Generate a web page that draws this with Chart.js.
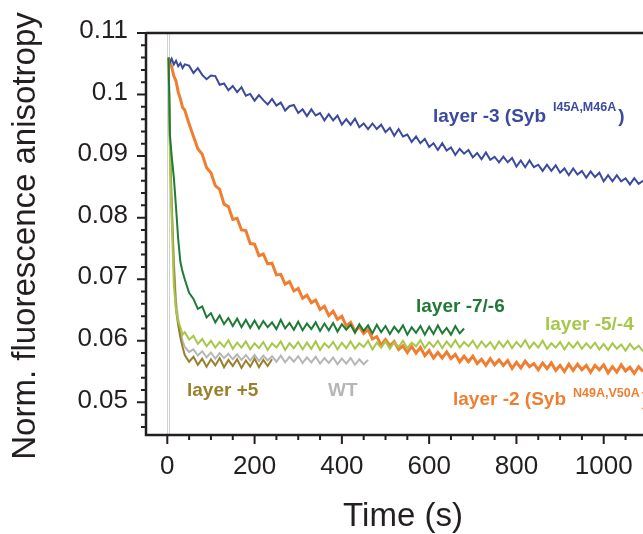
<!DOCTYPE html>
<html>
<head>
<meta charset="utf-8">
<script src="https://cdn.jsdelivr.net/npm/chart.js@4.4.1/dist/chart.umd.min.js"></script>
<style>
  html, body { margin: 0; padding: 0; background: #fff; }
  canvas { display: block; }
</style>
</head>
<body>
<canvas id="chart" width="643" height="534"></canvas>
<script>
// time points (s) shared by all traces; shorter traces stop early
const times = [3, 6, 10, 15, 20, 25, 30, 35, 40,
  50, 60, 70, 80, 90, 100, 110, 120, 130, 140, 150, 160, 170, 180, 190, 200,
  210, 220, 230, 240, 250, 260, 270, 280, 290, 300, 310, 320, 330, 340, 350,
  360, 370, 380, 390, 400, 410, 420, 430, 440, 450, 460, 470, 480, 490, 500,
  510, 520, 530, 540, 550, 560, 570, 580, 590, 600, 610, 620, 630, 640, 650,
  660, 670, 680, 690, 700, 710, 720, 730, 740, 750, 760, 770, 780, 790, 800,
  810, 820, 830, 840, 850, 860, 870, 880, 890, 900, 910, 920, 930, 940, 950,
  960, 970, 980, 990, 1000, 1010, 1020, 1030, 1040, 1050, 1060, 1070, 1080, 1090];

const layer3 = [.1060, .1052, .1058, .1049, .1055, .1046, .1051, .1043, .1049,
  .1047, .1035, .1043, .1032, .1025, .1031, .1030, .1016, .1018, .1007, .1014, .1004, .1012, .0998, .1001, .0990,
  .0999, .0991, .0984, .0993, .0982, .0987, .0974, .0981, .0983, .0970, .0976, .0965, .0976, .0966, .0970,
  .0958, .0968, .0958, .0966, .0951, .0960, .0951, .0961, .0947, .0953, .0944, .0953, .0944, .0951, .0939,
  .0946, .0933, .0944, .0932, .0935, .0923, .0932, .0921, .0928, .0915, .0921, .0910, .0921, .0909, .0914,
  .0902, .0912, .0904, .0910, .0898, .0905, .0895, .0906, .0894, .0899, .0890, .0899, .0890, .0897, .0883,
  .0893, .0882, .0893, .0882, .0886, .0876, .0886, .0876, .0885, .0873, .0880, .0869, .0880, .0870, .0876,
  .0865, .0875, .0866, .0873, .0859, .0869, .0859, .0869, .0859, .0864, .0854, .0864, .0855, .0860];

const layer2 = [.1060, .1052, .1045, .1030, .1022, .1004, .0993, .0979, .0975,
  .0952, .0932, .0912, .0903, .0881, .0873, .0852, .0846, .0822, .0818, .0797, .0799, .0780, .0779, .0758, .0757,
  .0738, .0741, .0725, .0726, .0707, .0708, .0692, .0696, .0681, .0685, .0669, .0674, .0662, .0666, .0651,
  .0656, .0641, .0648, .0635, .0640, .0624, .0630, .0616, .0623, .0612, .0618, .0603, .0607, .0593, .0602,
  .0592, .0599, .0586, .0592, .0581, .0591, .0580, .0589, .0576, .0584, .0572, .0581, .0572, .0582, .0571,
  .0578, .0566, .0575, .0566, .0575, .0563, .0570, .0560, .0571, .0561, .0569, .0560, .0568, .0555, .0565,
  .0556, .0567, .0558, .0563, .0553, .0564, .0555, .0564, .0552, .0560, .0550, .0562, .0552, .0562, .0553,
  .0560, .0549, .0560, .0553, .0561, .0548, .0558, .0549, .0561, .0551, .0557, .0547, .0558, .0550];

const layer76 = [.1060, .0935, .0900, .0865, .0817, .0765, .0728, .0712, .0700,
  .0678, .0668, .0652, .0656, .0638, .0645, .0630, .0641, .0627, .0637, .0624, .0636, .0622, .0634, .0621, .0633,
  .0620, .0632, .0622, .0630, .0619, .0634, .0620, .0629, .0618, .0631, .0617, .0628, .0619, .0630, .0616,
  .0628, .0617, .0629, .0615, .0627, .0618, .0626, .0613, .0627, .0616, .0625, .0612, .0626, .0614, .0624,
  .0611, .0623, .0614, .0625, .0610, .0622, .0613, .0624, .0610, .0623, .0611, .0625, .0612, .0621, .0610,
  .0624, .0612, .0620];

const layer54 = [.1060, .0900, .0800, .0690, .0650, .0632, .0622, .0610, .0614,
  .0602, .0608, .0595, .0603, .0591, .0600, .0589, .0598, .0590, .0601, .0587, .0597, .0589, .0599, .0586, .0596,
  .0588, .0598, .0585, .0596, .0589, .0599, .0585, .0596, .0588, .0598, .0586, .0597, .0587, .0599, .0585,
  .0596, .0589, .0598, .0586, .0597, .0588, .0599, .0587, .0596, .0590, .0600, .0586, .0597, .0589, .0599,
  .0587, .0598, .0590, .0600, .0588, .0597, .0591, .0601, .0588, .0598, .0590, .0600, .0588, .0599, .0590,
  .0601, .0589, .0598, .0591, .0600, .0588, .0599, .0590, .0598, .0587, .0599, .0590, .0600, .0588, .0598,
  .0590, .0601, .0588, .0597, .0589, .0600, .0587, .0596, .0589, .0598, .0586, .0597, .0589, .0598, .0587,
  .0596, .0588, .0597, .0586, .0595, .0585, .0596, .0587, .0594, .0584, .0595, .0586, .0592, .0583];

const layer5 = [.1060, .0920, .0820, .0720, .0650, .0625, .0605, .0590, .0577,
  .0566, .0574, .0561, .0571, .0558, .0570, .0560, .0572, .0557, .0569, .0559, .0570, .0556, .0568, .0558, .0571,
  .0557, .0569, .0559, .0570];

const wildType = [.1060, .0925, .0830, .0730, .0665, .0635, .0615, .0600, .0590,
  .0582, .0586, .0576, .0583, .0573, .0581, .0571, .0580, .0572, .0579, .0570, .0578, .0569, .0577, .0568, .0577,
  .0567, .0576, .0568, .0575, .0566, .0576, .0565, .0574, .0566, .0575, .0564, .0573, .0565, .0574, .0563,
  .0572, .0564, .0573, .0562, .0571, .0563, .0572, .0561, .0570, .0562, .0569];

const xTicks = [0, 200, 400, 600, 800, 1000];
const xTickText = ['0', '200', '400', '600', '800', '1000'];
const yTicks = [0.05, 0.06, 0.07, 0.08, 0.09, 0.1, 0.11];
const yTickText = ['0.05', '0.06', '0.07', '0.08', '0.09', '0.1', '0.11'];
const mixTimes = [0, 5];

const colors = {
  blue: '#3c4a9d',
  orange: '#f07e31',
  dark: '#1f7a36',
  light: '#a7c74a',
  olive: '#9a802b',
  gray: '#b6b6b6'
};

const FONT = '"Liberation Sans", Arial, Helvetica, sans-serif';

const curveLabels = [
  { text: 'layer -3 (Syb', sup: 'I45A,M46A', color: colors.blue, x: 433, y: 122, supDy: 11 },
  { text: 'layer -7/-6', color: colors.dark, x: 416, y: 312 },
  { text: 'layer -5/-4', color: colors.light, x: 545, y: 330 },
  { text: 'layer -2 (Syb', sup: 'N49A,V50A', color: colors.orange, x: 453, y: 405, supDy: 8 },
  { text: 'layer +5', color: colors.olive, x: 187, y: 396 },
  { text: 'WT', color: colors.gray, x: 328, y: 396 }
];

function toPoints(vals) {
  return vals.map((v, i) => ({ x: times[i], y: v }));
}

function drawLabel(ctx, l) {
  ctx.fillStyle = l.color;
  ctx.textAlign = 'left';
  ctx.textBaseline = 'alphabetic';
  ctx.font = 'bold 19px ' + FONT;
  ctx.fillText(l.text, l.x, l.y);
  if (!l.sup) return;
  let cx = l.x + ctx.measureText(l.text).width + 7;
  ctx.font = 'bold 12.5px ' + FONT;
  ctx.fillText(l.sup, cx, l.y - l.supDy);
  cx += ctx.measureText(l.sup).width + 2;
  ctx.font = 'bold 19px ' + FONT;
  ctx.fillText(')', cx, l.y);
}

const framePlugin = {
  id: 'frame',
  beforeDatasetsDraw(chart) {
    const { ctx, chartArea: a, scales: { x } } = chart;
    ctx.save();
    ctx.strokeStyle = '#d2d2d2';
    ctx.lineWidth = 1;
    mixTimes.forEach(t => {
      const px = Math.round(x.getPixelForValue(t)) + 0.5;
      ctx.beginPath();
      ctx.moveTo(px, a.top);
      ctx.lineTo(px, a.bottom);
      ctx.stroke();
    });
    ctx.restore();
  },
  afterDraw(chart) {
    const { ctx, chartArea: a, scales: { x, y } } = chart;
    ctx.save();
    ctx.strokeStyle = '#231f20';
    ctx.lineWidth = 2.5;
    ctx.beginPath();
    ctx.moveTo(a.left, a.top);
    ctx.lineTo(a.right, a.top);
    ctx.moveTo(a.left, a.top);
    ctx.lineTo(a.left, a.bottom);
    ctx.lineTo(a.right, a.bottom);
    ctx.stroke();

    // tick marks, major and minor
    ctx.lineWidth = 2;
    ctx.beginPath();
    for (let v = 0.046; v < 0.1101; v += 0.002) {
      const py = y.getPixelForValue(v);
      const major = Math.abs(v * 100 - Math.round(v * 100)) < 1e-6;
      ctx.moveTo(a.left, py);
      ctx.lineTo(a.left - (major ? 9 : 5), py);
    }
    for (let t = 0; t <= 1090; t += 50) {
      const px = x.getPixelForValue(t);
      ctx.moveTo(px, a.bottom);
      ctx.lineTo(px, a.bottom + (t % 200 === 0 ? 9 : 5));
    }
    ctx.stroke();

    // axis titles
    ctx.fillStyle = '#231f20';
    ctx.font = '33px ' + FONT;
    ctx.textAlign = 'center';
    ctx.textBaseline = 'alphabetic';
    ctx.fillText('Time (s)', 403, 526);
    ctx.translate(35, 236);
    ctx.rotate(-Math.PI / 2);
    ctx.fillText('Norm. fluorescence anisotropy', 0, 0);
    ctx.restore();

    ctx.save();
    curveLabels.forEach(l => drawLabel(ctx, l));
    ctx.restore();
  }
};

function trace(data, color, width) {
  return {
    data: toPoints(data),
    borderColor: color,
    borderWidth: width,
    pointRadius: 0,
    tension: 0,
    fill: false
  };
}

new Chart(document.getElementById('chart'), {
  type: 'line',
  data: {
    datasets: [
      trace(layer76, colors.dark, 2),
      trace(layer54, colors.light, 2),
      trace(layer5, colors.olive, 2),
      trace(wildType, colors.gray, 2),
      trace(layer3, colors.blue, 2),
      trace(layer2, colors.orange, 3)
    ]
  },
  plugins: [framePlugin],
  options: {
    responsive: false,
    animation: false,
    devicePixelRatio: 1,
    layout: { padding: { top: 33, right: 0, left: 0, bottom: 0 } },
    plugins: { legend: { display: false }, tooltip: { enabled: false } },
    scales: {
      x: {
        type: 'linear',
        min: -48.8,
        max: 1090,
        afterBuildTicks: s => { s.ticks = xTicks.map(v => ({ value: v })); },
        afterFit: s => { s.height = 99; s.paddingLeft = 0; s.paddingRight = 0; },
        grid: { display: false, drawTicks: false, tickLength: 0 },
        border: { display: false },
        ticks: {
          font: { size: 26, family: FONT },
          color: '#231f20',
          padding: 16,
          maxRotation: 0,
          autoSkip: false,
          callback: v => xTickText[xTicks.indexOf(v)]
        }
      },
      y: {
        min: 0.0447,
        max: 0.11,
        afterBuildTicks: s => { s.ticks = yTicks.map(v => ({ value: v })); },
        afterFit: s => { s.width = 146; s.paddingTop = 0; s.paddingBottom = 0; },
        grid: { display: false, drawTicks: false, tickLength: 0 },
        border: { display: false },
        ticks: {
          font: { size: 26, family: FONT },
          color: '#231f20',
          padding: 18,
          labelOffset: -2,
          autoSkip: false,
          callback: v => yTickText[yTicks.indexOf(v)]
        }
      }
    }
  }
});
</script>
</body>
</html>
